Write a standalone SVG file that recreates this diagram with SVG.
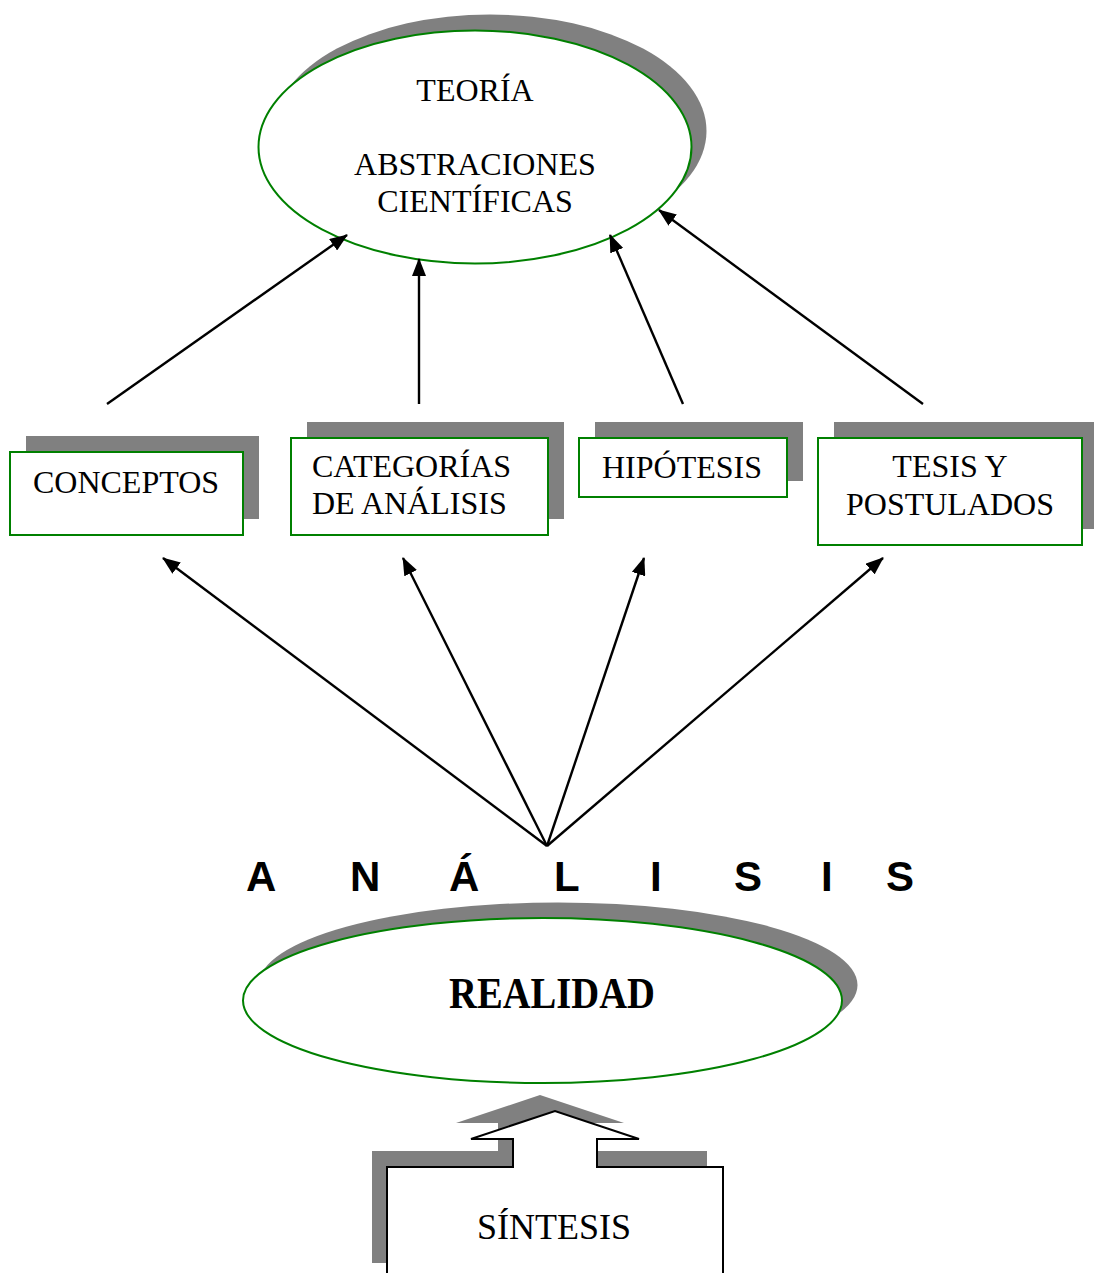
<svg xmlns="http://www.w3.org/2000/svg" width="1094" height="1273" viewBox="0 0 1094 1273">
<style>
.shadow{fill:#808080;stroke:none}
.node{fill:#ffffff;stroke:#008000;stroke-width:2}
.lbl{font-family:"Liberation Serif","Times New Roman",serif;font-size:32px;fill:#000}
.conn{stroke:#000;stroke-width:2.4;fill:none;marker-end:url(#arr)}
</style>
<defs>
<marker id="arr" viewBox="0 0 18 14" refX="17" refY="7" markerWidth="18" markerHeight="14" markerUnits="userSpaceOnUse" orient="auto">
<path d="M0,0 L18,7 L0,14 z" fill="#000"/>
</marker>
</defs>
<rect width="1094" height="1273" fill="#fff"/>

<g id="teoria">
<ellipse class="shadow" cx="490" cy="131" rx="216.5" ry="116.5"/>
<ellipse class="node" cx="475" cy="147" rx="216.5" ry="116.5"/>
<text class="lbl" x="475" y="101" text-anchor="middle">TEORÍA</text>
<text class="lbl" x="475" y="175" text-anchor="middle">ABSTRACIONES</text>
<text class="lbl" x="475" y="212" text-anchor="middle">CIENTÍFICAS</text>
</g>

<g id="conceptos">
<rect class="shadow" x="26" y="436" width="233" height="83"/>
<rect class="node" x="10" y="452" width="233" height="83"/>
<text class="lbl" x="126" y="493" text-anchor="middle">CONCEPTOS</text>
</g>

<g id="categorias">
<rect class="shadow" x="307" y="422" width="257" height="97"/>
<rect class="node" x="291" y="438" width="257" height="97"/>
<text class="lbl" x="312" y="477">CATEGORÍAS</text>
<text class="lbl" x="312" y="514">DE ANÁLISIS</text>
</g>

<g id="hipotesis">
<rect class="shadow" x="595" y="422" width="208" height="59"/>
<rect class="node" x="579" y="438" width="208" height="59"/>
<text class="lbl" x="682" y="478" text-anchor="middle">HIPÓTESIS</text>
</g>

<g id="tesis">
<rect class="shadow" x="834" y="422" width="264" height="107"/>
<rect class="node" x="818" y="438" width="264" height="107"/>
<text class="lbl" x="950" y="477" text-anchor="middle">TESIS Y</text>
<text class="lbl" x="950" y="515" text-anchor="middle">POSTULADOS</text>
</g>

<g id="connectors">
<line class="conn" x1="107" y1="404" x2="347" y2="235"/>
<line class="conn" x1="419" y1="404" x2="419" y2="259"/>
<line class="conn" x1="683" y1="404" x2="610" y2="235"/>
<line class="conn" x1="923" y1="404" x2="659" y2="210"/>
<line class="conn" x1="547" y1="846" x2="163" y2="558"/>
<line class="conn" x1="547" y1="846" x2="403" y2="558"/>
<line class="conn" x1="547" y1="846" x2="644" y2="558"/>
<line class="conn" x1="547" y1="846" x2="883" y2="558"/>
</g>

<g id="analisis">
<text x="246 299 350 399 449 501 554 602 650 692 734 778 821 853 886" y="891" font-family="'Liberation Sans',Arial,sans-serif" font-weight="bold" font-size="42" fill="#000">A N Á L I S I S</text>
</g>

<g id="realidad">
<ellipse class="shadow" cx="558" cy="985" rx="299.5" ry="82.5"/>
<ellipse class="node" cx="542.5" cy="1000.5" rx="299.5" ry="82.5"/>
<text x="449" y="1008" font-family="'Liberation Serif','Times New Roman',serif" font-weight="bold" font-size="44" fill="#000" textLength="206" lengthAdjust="spacingAndGlyphs">REALIDAD</text>
</g>

<g id="sintesis">
<path class="shadow" d="M372,1263 L372,1151 L498,1151 L498,1123 L456,1123 L540,1095 L624,1123 L582,1123 L582,1151 L707,1151 L707,1263 z"/>
<path d="M387,1280 L387,1167 L513,1167 L513,1139 L471,1139 L555,1111 L639,1139 L597,1139 L597,1167 L723,1167 L723,1280" fill="#fff" stroke="#000" stroke-width="2"/>
<text x="554" y="1239" text-anchor="middle" font-family="'Liberation Serif','Times New Roman',serif" font-size="36" fill="#000">SÍNTESIS</text>
</g>
</svg>
